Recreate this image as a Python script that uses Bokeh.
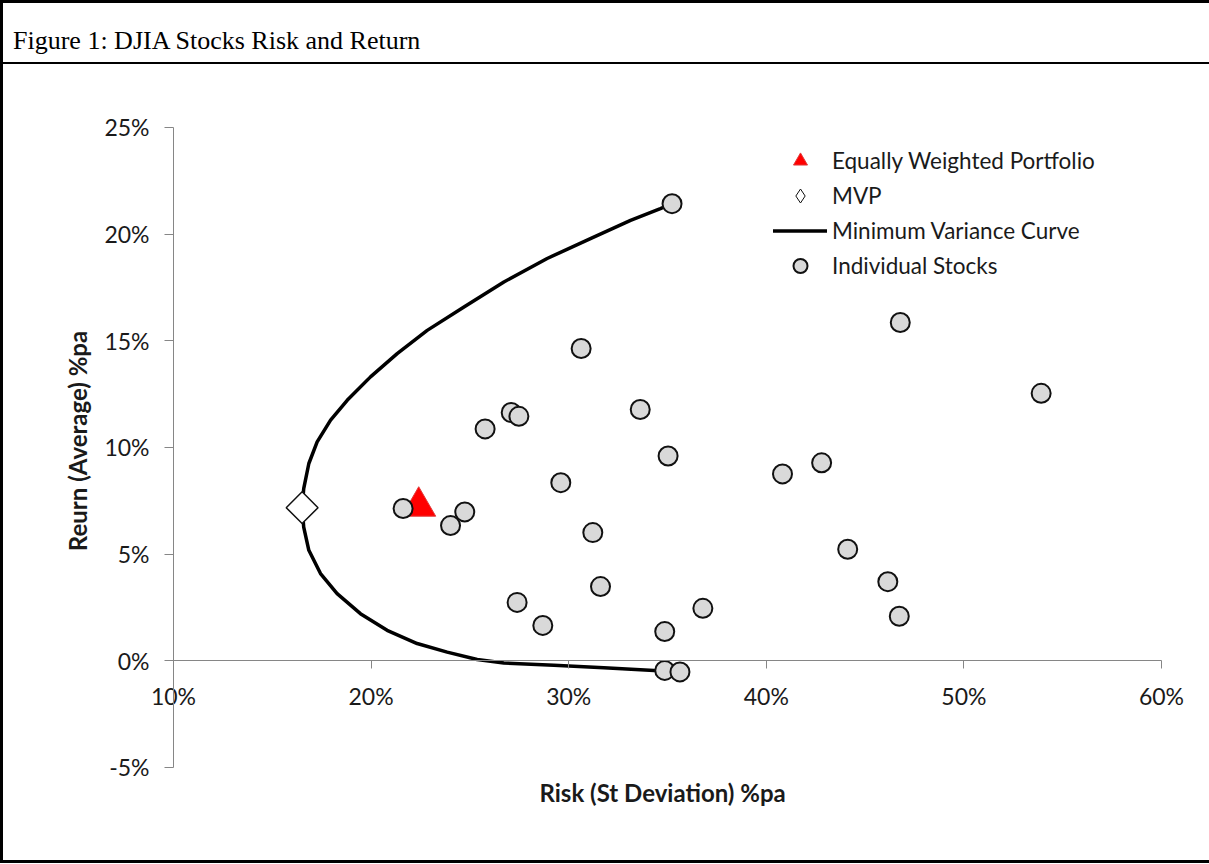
import math
from bokeh.plotting import figure
from bokeh.models import (Range1d, LinearAxis, FixedTicker, PrintfTickFormatter,
                          Legend, LegendItem, Div, Title)
from bokeh.layouts import column
from bokeh.embed import file_html
from bokeh.resources import INLINE

# ---------------- data (percent per annum) ----------------
stock_risk = [35.23, 30.63, 27.09, 27.48, 25.77, 33.62, 35.03, 29.60, 21.62, 24.74,
              24.02, 31.22, 31.61, 27.39, 28.69, 36.79, 34.86, 34.86, 35.63, 46.78,
              53.91, 42.80, 40.82, 44.12, 46.15, 46.73]
stock_return = [21.43, 14.64, 11.64, 11.46, 10.87, 11.78, 9.60, 8.35, 7.14, 6.98,
                6.34, 6.01, 3.48, 2.74, 1.66, 2.46, 1.37, -0.45, -0.52, 15.86,
                12.54, 9.28, 8.76, 5.23, 3.71, 2.09]

curve_risk = [34.86, 34.32, 31.78, 29.25, 26.72, 25.37, 23.85, 22.33, 20.81, 19.46,
              18.28, 17.44, 16.85, 16.59, 16.51, 16.59, 16.85, 17.27, 17.95, 18.79,
              19.97, 21.32, 22.84, 24.70, 26.72, 28.91, 31.10, 33.13, 34.64, 35.23]
curve_return = [-0.45, -0.45, -0.32, -0.21, -0.10, 0.06, 0.41, 0.81, 1.43, 2.21,
                3.15, 4.09, 5.18, 6.27, 7.18, 8.07, 9.25, 10.26, 11.28, 12.21,
                13.31, 14.40, 15.49, 16.59, 17.76, 18.86, 19.79, 20.65, 21.20, 21.43]

mvp_risk = [16.51]
mvp_return = [7.18]
ewp_risk = [22.41]
ewp_return = [7.24]

x_ticks = [10, 20, 30, 40, 50, 60]
y_ticks = [-5, 0, 5, 10, 15, 20, 25]
x_axis_bounds = (10, 60)
y_axis_bounds = (-5, 25)

title_text = "Figure 1: DJIA Stocks Risk and Return"
x_label = "Risk (St Deviation) %pa"
y_label = "Reurn (Average) %pa"
legend_labels = ["Equally Weighted Portfolio", "MVP", "Minimum Variance Curve", "Individual Stocks"]

# ---------------- styling ----------------
FONT = "Lato"
AXIS_GRAY = "#868686"
TEXT = "#1a1a1a"
W = 1206
H = 796

p = figure(width=W, height=H, x_range=Range1d(6.306, 61.721), y_range=Range1d(-5.422, 26.031),
           output_backend="svg", toolbar_location=None, x_axis_location=None,
           min_border_left=97, min_border_right=14, min_border_top=41, min_border_bottom=84)
p.title.visible = False
p.grid.visible = False
p.outline_line_color = None
p.background_fill_color = "white"
p.border_fill_color = "white"

# outer left axis: only carries the y title
ya = p.yaxis[0]
ya.ticker = FixedTicker(ticks=[])
ya.axis_line_color = None
ya.major_tick_line_color = None
ya.minor_tick_line_color = None
ya.major_tick_out = 0
ya.major_tick_in = 0
ya.major_label_standoff = 0
ya.axis_label = y_label
ya.axis_label_standoff = 9
ya.axis_label_text_font = FONT
ya.axis_label_text_font_style = "bold"
ya.axis_label_text_font_size = "24px"
ya.axis_label_text_color = TEXT


def styled(ax, ticks, tick_out, standoff):
    ax.ticker = FixedTicker(ticks=ticks)
    ax.formatter = PrintfTickFormatter(format="%d%%")
    ax.axis_line_color = AXIS_GRAY
    ax.major_tick_line_color = AXIS_GRAY
    ax.minor_tick_line_color = None
    ax.major_tick_out = tick_out
    ax.major_tick_in = 0
    ax.major_label_standoff = standoff
    ax.major_label_text_font = FONT
    ax.major_label_text_font_size = "23px"
    ax.major_label_text_color = TEXT


# crossing axes
xb = LinearAxis(fixed_location=0, bounds=x_axis_bounds)
styled(xb, x_ticks, 8, 13)
p.add_layout(xb, "below")

yb = LinearAxis(fixed_location=x_axis_bounds[0], bounds=y_axis_bounds)
styled(yb, y_ticks, 9, 15)
p.add_layout(yb, "left")

# x title below the plot, shifted to sit under the centre of the drawn x axis
x_title = Title(text=x_label, align="left", vertical_align="middle", offset=439, standoff=0,
                text_font=FONT, text_font_style="bold", text_font_size="24px", text_color=TEXT)
p.add_layout(x_title, "below")

# ---------------- glyphs ----------------
r_curve = p.line(curve_risk, curve_return, line_color="black", line_width=3.5, line_join="round",
                 line_cap="round")
r_ewp = p.scatter(ewp_risk, ewp_return, marker="triangle", size=34, fill_color="#ff0000",
                  line_color="#e23a3a", line_width=1)
r_stock = p.scatter(stock_risk, stock_return, marker="circle", size=19, fill_color="#d9d9d9",
                    line_color="#111111", line_width=2)
# small diamond used as the MVP legend key (hidden under the large MVP symbol)
r_mvp_key = p.scatter(mvp_risk, mvp_return, marker="diamond", size=10, fill_color="white",
                      line_color="#111111", line_width=1)
r_mvp = p.scatter(mvp_risk, mvp_return, marker="square", angle=math.pi / 4, size=22.5,
                  fill_color="white", line_color="#111111", line_width=1.5)

legend = Legend(items=[LegendItem(label=legend_labels[0], renderers=[r_ewp]),
                       LegendItem(label=legend_labels[1], renderers=[r_mvp_key]),
                       LegendItem(label=legend_labels[2], renderers=[r_curve]),
                       LegendItem(label=legend_labels[3], renderers=[r_stock])],
                location=(673, 493), orientation="vertical")
legend.glyph_width = 54
legend.glyph_height = 35
legend.label_height = 35
legend.spacing = 0
legend.padding = 0
legend.margin = 0
legend.label_standoff = 5
legend.label_text_font = FONT
legend.label_text_font_size = "22.5px"
legend.label_text_color = TEXT
legend.background_fill_alpha = 0
legend.border_line_color = None
p.add_layout(legend, "center")

title_div = Div(
    text=('<div style="font-family: \'Liberation Serif\', serif; font-size: 26px; color: black; '
          'padding: 23px 0 0 10px; white-space: nowrap; line-height: 1.15;">' + title_text + '</div>'),
    width=W, height=61, margin=0,
    styles={"border-bottom": "2px solid black", "box-sizing": "border-box"})

layout = column(title_div, p,
                styles={"border-top": "3px solid black", "border-left": "3px solid black",
                        "border-bottom": "3px solid black"})

open("out.html", "w").write(file_html(layout, INLINE))
